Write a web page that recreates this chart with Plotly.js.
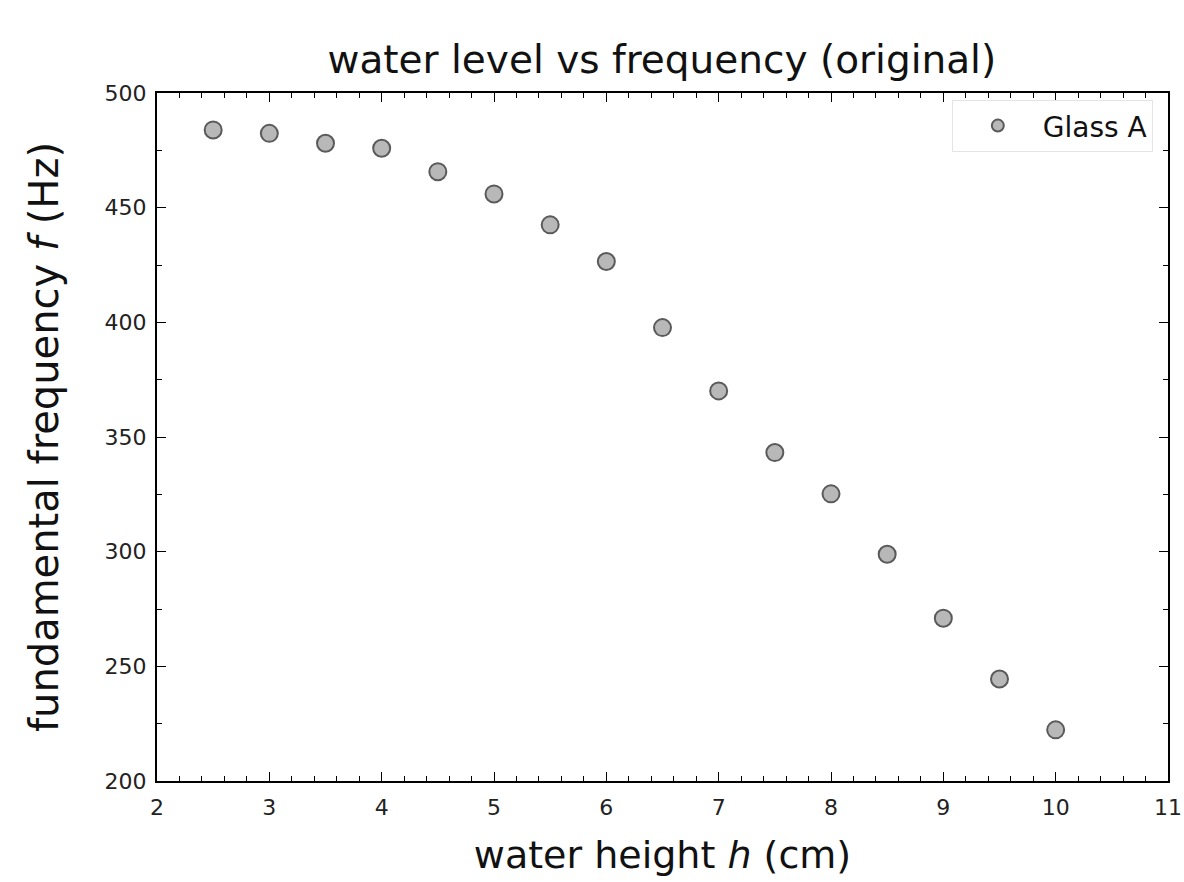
<!DOCTYPE html>
<html>
<head>
<meta charset="utf-8">
<script src="https://cdn.plot.ly/plotly-3.0.1.min.js"></script>
<style>html,body{margin:0;padding:0;background:#fff;}#chart{width:1184px;height:882px;}</style>
</head>
<body>
<div id="chart"></div>
<script>
const waterHeight = [2.5, 3.0, 3.5, 4.0, 4.5, 5.0, 5.5, 6.0, 6.5, 7.0, 7.5, 8.0, 8.5, 9.0, 9.5, 10.0];
const frequency = [483.9, 482.4, 478.1, 475.9, 465.7, 456.0, 442.5, 426.5, 397.7, 370.1, 343.2, 325.2, 298.9, 271.0, 244.5, 222.3];
const freqError = [3, 3, 3, 3, 3, 3, 3, 3, 3, 3, 3, 3, 3, 3, 3, 3];
const seriesName = 'Glass A';

const font = 'DejaVu Sans, sans-serif';

const trace = {
  x: waterHeight,
  y: frequency,
  name: seriesName,
  type: 'scatter',
  mode: 'markers',
  marker: {size: 17, color: '#b8b8b8', line: {color: '#5a5a5a', width: 2}},
  error_y: {type: 'data', array: freqError, visible: true, color: '#9a9a9a', thickness: 1.2, width: 3}
};

const axisCommon = {
  showgrid: false,
  zeroline: false,
  showline: true,
  linecolor: '#000',
  linewidth: 2,
  mirror: 'ticks',
  ticks: 'inside',
  ticklen: 9,
  tickwidth: 1,
  tickcolor: '#000',
  automargin: false,
  tickfont: {family: font, size: 22, color: '#222'}
};

const layout = {
  width: 1184,
  height: 882,
  paper_bgcolor: '#fff',
  plot_bgcolor: '#fff',
  margin: {l: 157, r: 16, t: 93, b: 101},
  title: {text: 'water level vs frequency (original)', font: {family: font, size: 39, color: '#111'}, x: 0.559, xanchor: 'center', y: 0.933, yanchor: 'middle'},
  xaxis: Object.assign({}, axisCommon, {
    range: [2, 11],
    dtick: 1,
    ticklabelstandoff: 6,
    minor: {dtick: 0.2, ticks: 'inside', ticklen: 5, tickcolor: '#000', tickwidth: 1},
    title: {text: 'water height <i>h</i> (cm)', font: {family: font, size: 38, color: '#111'}, standoff: 22}
  }),
  yaxis: Object.assign({}, axisCommon, {
    range: [200, 500],
    dtick: 50,
    ticklabelstandoff: 4,
    minor: {dtick: 25, ticks: 'inside', ticklen: 5, tickcolor: '#000', tickwidth: 1},
    title: {text: 'fundamental frequency <i>f</i> (Hz)', font: {family: font, size: 40, color: '#111'}, standoff: 34}
  }),
  showlegend: true,
  legend: {
    x: 0.985, y: 0.99, xanchor: 'right', yanchor: 'top',
    bgcolor: '#fff', bordercolor: '#e4e4e4', borderwidth: 1,
    itemwidth: 80, itemsizing: 'constant',
    font: {family: font, size: 28, color: '#111'}
  }
};

Plotly.newPlot('chart', [trace], layout, {displayModeBar: false, staticPlot: true});
</script>
</body>
</html>
